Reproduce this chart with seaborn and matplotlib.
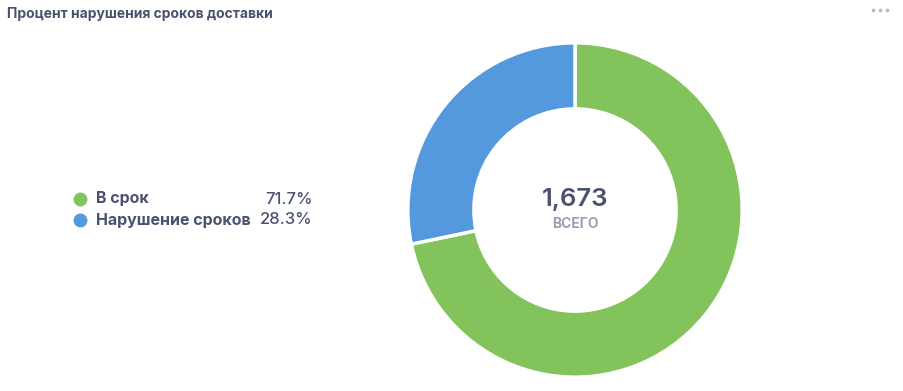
import matplotlib
matplotlib.use('Agg')
import matplotlib.pyplot as plt
import seaborn as sns

# данные
categories = ['В срок', 'Нарушение сроков']
values = [1200, 473]
total_label = 'ВСЕГО'
title = 'Процент нарушения сроков доставки'

sns.set_theme(style='white')
plt.rcParams['font.family'] = ['Inter', 'DejaVu Sans']

colors = sns.color_palette(['#82C35B', '#5499DE'])
text_c = '#4A5270'
W, H = 904, 391

fig = plt.figure(figsize=(W / 100, H / 100), dpi=100)
fig.patch.set_facecolor('white')

# donut
cx, cy, r = 575, 210, 168
ax = fig.add_axes([(cx - r) / W, (H - cy - r) / H, 2 * r / W, 2 * r / H])
ax.pie(values, colors=colors, startangle=90, counterclock=False, radius=1,
       wedgeprops=dict(width=0.395, edgecolor='white', linewidth=2.5))
ax.set_xlim(-1.005, 1.005)
ax.set_ylim(-1.005, 1.005)
ax.set_aspect('equal')
ax.axis('off')

total = sum(values)
ax.text(0, 0.06, f'{total:,}', ha='center', va='center', fontsize=18.5,
        color=text_c, fontweight='semibold')
ax.text(0, -0.085, total_label, ha='center', va='center', fontsize=10,
        color='#9A9FB5', fontweight='bold')

# overlay in pixel units for title and legend
ov = fig.add_axes([0, 0, 1, 1], zorder=-1)
ov.set_xlim(0, W)
ov.set_ylim(H, 0)
ov.axis('off')

ov.text(7, 14, title, ha='left', va='center', fontsize=10, fontweight='bold',
        color=text_c)
ov.scatter([873, 880, 887], [10, 10, 10], s=7, color='#B4B8C8', lw=0)

for i, (cat, v) in enumerate(zip(categories, values)):
    y = 199 + i * 21
    ov.scatter([80], [y], s=100, color=colors[i], lw=0)
    ov.text(96, y, cat, ha='left', va='center', fontsize=11.5,
            fontweight='bold', color=text_c)
    ov.text(313, y, f'{v / total * 100:.1f}%', ha='right', va='center',
            fontsize=12, fontweight='medium', color=text_c)

fig.savefig('out.png', dpi=100, facecolor='white')
